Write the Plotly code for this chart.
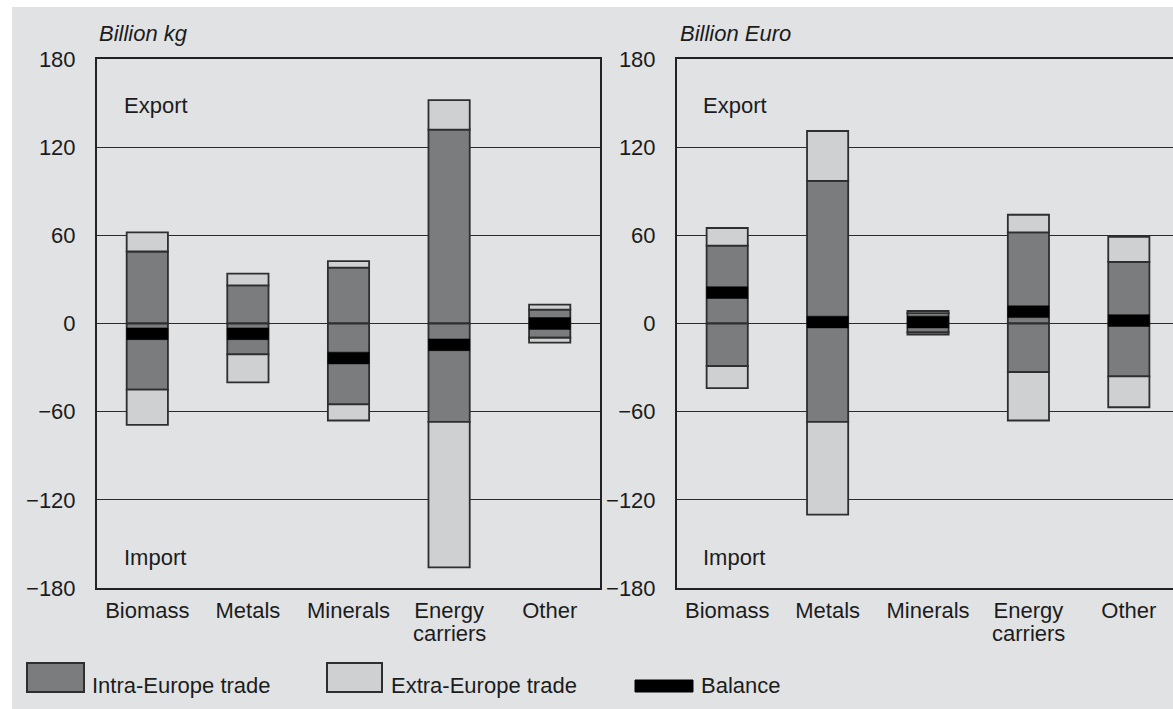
import plotly.graph_objects as go

# ---- data -------------------------------------------------------------
categories = ["Biomass", "Metals", "Minerals", "Energy carriers", "Other"]
# first line of each category label goes on the axis, a second line (if any)
# is set tighter underneath
label_line1 = ["Biomass", "Metals", "Minerals", "Energy", "Other"]
label_line2 = ["", "", "", "carriers", ""]

# physical trade, billion kg
mass_intra_export = [49, 26, 38, 132, 9.5]
mass_extra_export = [13, 8, 4.5, 20, 3.3]
mass_intra_import = [45, 21, 55, 67, 9.7]
mass_extra_import = [24, 19, 11, 99, 3.3]
mass_balance = [-7, -7, -23.5, -14.5, 0]

# monetary trade, billion Euro
value_intra_export = [53, 97, 7, 62, 42]
value_extra_export = [12, 34, 1.5, 12, 17]
value_intra_import = [29, 67, 6, 33, 36]
value_extra_import = [15, 63, 1.5, 33, 21]
value_balance = [21, 1, 1, 8, 2]

y_ticks = [180, 120, 60, 0, -60, -120, -180]

# ---- style ------------------------------------------------------------
W, H = 1173, 709
BG = "#e1e2e4"
INTRA = "#7b7c7e"
EXTRA = "#cfd0d2"
OUTLINE = "#2e2e2e"
TEXT = "#1c1c1c"
FONT = "Liberation Sans"
FS = 22
BAR_W = 0.41
BAND = 8  # thickness of the balance band, in axis units


def px(x):
    return x / W


def py(y):
    return 1 - y / H


fig = go.Figure()


def add_panel(xa, ya, intra_exp, extra_exp, intra_imp, extra_imp, balance):
    neg_intra = [-v for v in intra_imp]
    neg_total = [-(a + b) for a, b in zip(intra_imp, extra_imp)]
    common = dict(x=categories, xaxis=xa, yaxis=ya, width=BAR_W,
                  showlegend=False, hoverinfo="skip")
    line = dict(color=OUTLINE, width=1.8)
    fig.add_bar(y=intra_exp, base=[0] * len(categories),
                marker=dict(color=INTRA, line=line), **common)
    fig.add_bar(y=extra_exp, base=intra_exp,
                marker=dict(color=EXTRA, line=line), **common)
    fig.add_bar(y=intra_imp, base=neg_intra,
                marker=dict(color=INTRA, line=line), **common)
    fig.add_bar(y=extra_imp, base=neg_total,
                marker=dict(color=EXTRA, line=line), **common)
    fig.add_bar(y=[BAND] * len(categories), base=[b - BAND / 2 for b in balance],
                marker=dict(color="#000000", line=dict(color="#000000", width=0.5)),
                **common)


add_panel("x", "y", mass_intra_export, mass_extra_export,
          mass_intra_import, mass_extra_import, mass_balance)
add_panel("x2", "y2", value_intra_export, value_extra_export,
          value_intra_import, value_extra_import, value_balance)

tick_font = dict(family=FONT, size=FS, color=TEXT)
y_common = dict(range=[-180, 180], tickvals=y_ticks,
                ticktext=[str(v).replace("-", "\u2212") for v in y_ticks],
                showgrid=True, gridcolor="#2b2b2b", gridwidth=1.2,
                zeroline=False,
                showline=True, linecolor="#222222", linewidth=2,
                ticks="outside", ticklen=15, tickcolor="rgba(0,0,0,0)",
                tickfont=tick_font, fixedrange=True, automargin=False)
x_common = dict(type="category", showgrid=False, zeroline=False,
                tickvals=categories, ticktext=label_line1,
                showline=True, linecolor="#222222", linewidth=2, mirror=True,
                ticks="outside", ticklen=2, tickcolor="rgba(0,0,0,0)",
                tickfont=tick_font, fixedrange=True, automargin=False)

fig.update_layout(
    width=W, height=H,
    margin=dict(l=0, r=0, t=0, b=0),
    paper_bgcolor="white", plot_bgcolor="white",
    barmode="overlay", showlegend=False,
    font=dict(family=FONT, color=TEXT),
    xaxis=dict(domain=[px(97), px(600)], range=[-0.5, 4.5], **x_common),
    yaxis=dict(domain=[py(588), py(59)], anchor="x", mirror=True, **y_common),
    xaxis2=dict(domain=[px(677), 1], range=[-0.5, 4.44], anchor="y2", **x_common),
    yaxis2=dict(domain=[py(588), py(59)], anchor="x2", mirror=False, **y_common),
)

# grey page background behind everything
fig.add_shape(type="rect", xref="paper", yref="paper", layer="below",
              x0=px(12), x1=1.01, y0=-0.01, y1=py(7),
              fillcolor=BG, line=dict(width=0))

ann = []
# unit captions
ann.append(dict(text="<i>Billion kg</i>", x=px(97), y=py(33)))
ann.append(dict(text="<i>Billion Euro</i>", x=px(678), y=py(33)))
# direction labels inside the panels
for x0 in (122, 701):
    ann.append(dict(text="Export", x=px(x0), y=py(105)))
    ann.append(dict(text="Import", x=px(x0), y=py(557)))
# legend captions
ann.append(dict(text="Intra-Europe trade", x=px(90), y=py(685)))
ann.append(dict(text="Extra-Europe trade", x=px(389), y=py(685)))
ann.append(dict(text="Balance", x=px(699), y=py(685)))
for a in ann:
    fig.add_annotation(xref="paper", yref="paper", xanchor="left",
                       yanchor="middle", showarrow=False,
                       font=dict(family=FONT, size=FS, color=TEXT), **a)

# second lines of category labels, tight leading
for xa in ("x", "x2"):
    for cat, extra in zip(categories, label_line2):
        if extra:
            fig.add_annotation(xref=xa, yref="paper", x=cat, y=py(633),
                               text=extra, showarrow=False,
                               xanchor="center", yanchor="middle",
                               font=dict(family=FONT, size=FS, color=TEXT))

# legend swatches
fig.add_shape(type="rect", xref="paper", yref="paper",
              x0=px(27), x1=px(84), y0=py(692), y1=py(663),
              fillcolor=INTRA, line=dict(color=OUTLINE, width=2))
fig.add_shape(type="rect", xref="paper", yref="paper",
              x0=px(327), x1=px(382), y0=py(692), y1=py(663),
              fillcolor=EXTRA, line=dict(color=OUTLINE, width=2))
fig.add_shape(type="rect", xref="paper", yref="paper",
              x0=px(635), x1=px(693), y0=py(692), y1=py(680),
              fillcolor="#000000", line=dict(color="#000000", width=1))

fig.write_html("out.html")
